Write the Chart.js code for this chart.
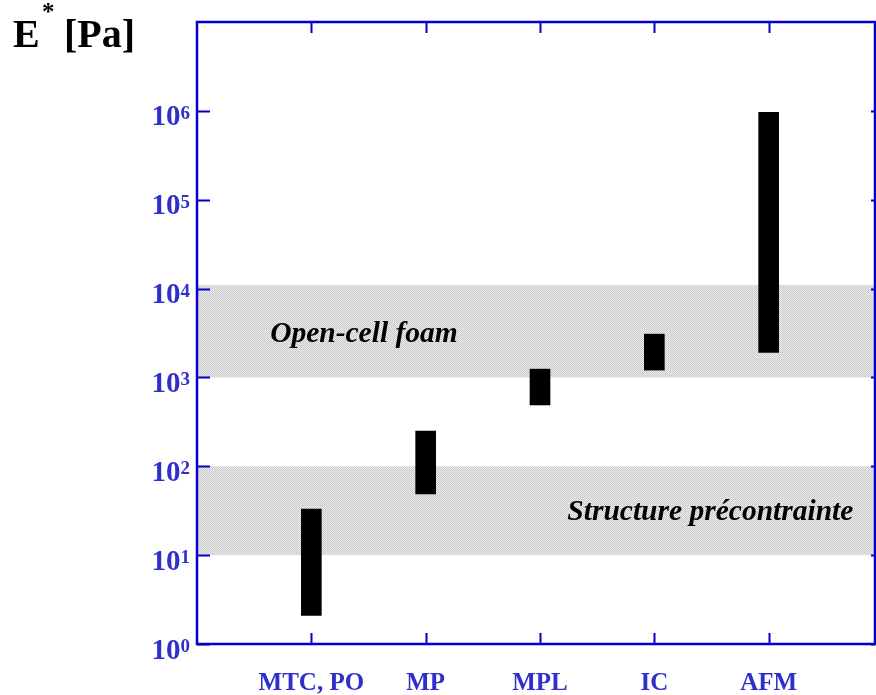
<!DOCTYPE html>
<html>
<head>
<meta charset="utf-8">
<script src="https://cdn.jsdelivr.net/npm/chart.js@4.4.1/dist/chart.umd.min.js"></script>
<style>
  html, body { margin: 0; padding: 0; background: #fff; }
  #wrap { width: 876px; height: 695px; }
</style>
</head>
<body>
<div id="wrap"><canvas id="modChart" width="876" height="695"></canvas></div>
<script>
// Measurement methods and their E* range (Pa)
const methods = ["MTC, PO", "MP", "MPL", "IC", "AFM"];
const lowValues = [2.1, 49, 490, 1210, 1910];
const highValues = [33, 249, 1240, 3070, 964000];

// Reference bands (Pa)
const bandNames = ["Open-cell foam", "Structure précontrainte"];
const bandLow = [1000, 10];
const bandHigh = [11000, 100];
const bandLabelX = [1.46, 4.49]; // x position of band label (category units)

// Decade exponents for the y axis labels
const yExponents = [0, 1, 2, 3, 4, 5, 6];

const BLUE = "#0000cc";
const LABEL_BLUE = "#2f2fcc";
const SERIF = '"Liberation Serif", "Times New Roman", serif';

// Dotted grey fill for the bands
function makePattern() {
  const c = document.createElement("canvas");
  c.width = 2;
  c.height = 2;
  const g = c.getContext("2d");
  g.fillStyle = "#ededed";
  g.fillRect(0, 0, 2, 2);
  g.fillStyle = "#c8c8c8";
  g.fillRect(0, 0, 1, 1);
  g.fillRect(1, 1, 1, 1);
  return g.createPattern(c, "repeat");
}

const framePlugin = {
  id: "frame",
  beforeDatasetsDraw(chart) {
    const { ctx, chartArea: a, scales: { y } } = chart;
    ctx.save();
    ctx.fillStyle = makePattern();
    bandLow.forEach((lo, i) => {
      const top = y.getPixelForValue(bandHigh[i]);
      const bot = y.getPixelForValue(lo);
      ctx.fillRect(a.left, top, a.right - a.left, bot - top);
    });
    ctx.restore();
  },
  afterDatasetsDraw(chart) {
    const { ctx, chartArea: a, scales: { x, y } } = chart;
    ctx.save();

    // band labels, centred on the decade middle of each band
    ctx.fillStyle = "#000";
    ctx.font = "italic bold 29.5px " + SERIF;
    ctx.textAlign = "center";
    ctx.textBaseline = "alphabetic";
    bandNames.forEach((name, i) => {
      const mid = bandLow[i] * Math.sqrt(10);
      const yp = y.getPixelForValue(mid) + 9;
      ctx.fillText(name, x.getPixelForValue(bandLabelX[i]), yp);
    });

    // frame
    ctx.strokeStyle = BLUE;
    ctx.lineWidth = 2.5;
    ctx.strokeRect(a.left, a.top, a.right - a.left, a.bottom - a.top);

    // y ticks (inside, left long, right short)
    ctx.lineWidth = 2;
    yExponents.forEach((e) => {
      const yp = Math.round(y.getPixelForValue(Math.pow(10, e))) + 0.5;
      ctx.beginPath();
      ctx.moveTo(a.left, yp);
      ctx.lineTo(a.left + 13, yp);
      ctx.moveTo(a.right, yp);
      ctx.lineTo(a.right - 4, yp);
      ctx.stroke();
    });

    // x ticks (inside, bottom and top)
    methods.forEach((m, i) => {
      const xp = Math.round(x.getPixelForValue(i + 1)) + 0.5;
      ctx.beginPath();
      ctx.moveTo(xp, a.bottom);
      ctx.lineTo(xp, a.bottom - 11);
      ctx.moveTo(xp, a.top);
      ctx.lineTo(xp, a.top + 11);
      ctx.stroke();
    });

    // y labels 10^n
    ctx.fillStyle = LABEL_BLUE;
    yExponents.forEach((e) => {
      const yp = y.getPixelForValue(Math.pow(10, e));
      ctx.font = "bold 19px " + SERIF;
      const ew = ctx.measureText(String(e)).width;
      ctx.textAlign = "right";
      ctx.fillText(String(e), 190, yp + 8);
      ctx.font = "bold 29px " + SERIF;
      ctx.fillText("10", 190 - ew, yp + 14.5);
    });

    // x labels
    ctx.font = "bold 25px " + SERIF;
    ctx.textAlign = "center";
    methods.forEach((m, i) => {
      ctx.fillText(m, x.getPixelForValue(i + 1), 690);
    });

    // axis title
    ctx.fillStyle = "#000";
    ctx.textAlign = "left";
    ctx.font = "bold 40px " + SERIF;
    ctx.fillText("E", 13, 47);
    ctx.font = "bold 25px " + SERIF;
    ctx.fillText("*", 42, 20);
    ctx.font = "bold 40px " + SERIF;
    ctx.fillText("[Pa]", 64, 47);

    ctx.restore();
  }
};

const barData = methods.map((m, i) => ({ x: i + 1, y: [lowValues[i], highValues[i]] }));

new Chart(document.getElementById("modChart"), {
  type: "bar",
  data: {
    datasets: [{
      data: barData,
      backgroundColor: "#000",
      borderWidth: 0,
      barThickness: 20
    }]
  },
  options: {
    responsive: false,
    animation: false,
    layout: { padding: { left: 197, top: 22, right: 1, bottom: 51 } },
    plugins: { legend: { display: false }, tooltip: { enabled: false } },
    scales: {
      x: { type: "linear", min: 0, max: 5.93, offset: false, display: false },
      y: { type: "logarithmic", min: 1, max: 1e7, display: false }
    }
  },
  plugins: [framePlugin]
});
</script>
</body>
</html>
